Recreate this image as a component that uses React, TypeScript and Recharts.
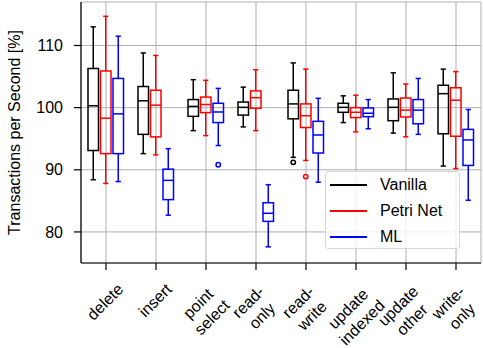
import { Bar, CartesianGrid, ComposedChart, Label, Legend, XAxis, YAxis } from "recharts";

const categories = ["delete", "insert", "point\nselect", "read-\nonly", "read-\nwrite", "update\nindexed", "update\nother", "write-\nonly"];

// [lower whisker, Q1, median, Q3, upper whisker]
const vanilla = [
  [88.4, 93.1, 100.3, 106.3, 113.0],
  [92.6, 95.7, 101.1, 103.4, 108.8],
  [96.3, 98.6, 100.2, 101.3, 104.5],
  [96.9, 98.8, 100.05, 100.9, 103.3],
  [92.0, 98.2, 100.6, 102.8, 107.2],
  [97.6, 99.25, 100.05, 100.7, 101.9],
  [95.9, 97.9, 100.05, 101.4, 105.6],
  [90.6, 95.8, 102.25, 103.6, 106.2],
];
const petriNet = [
  [87.8, 92.6, 98.3, 105.9, 114.7],
  [92.4, 95.3, 100.4, 102.8, 108.4],
  [95.5, 99.2, 100.5, 101.7, 104.4],
  [96.3, 99.9, 101.6, 102.7, 106.1],
  [91.5, 96.8, 98.7, 100.6, 106.2],
  [96.1, 98.4, 99.25, 100.0, 102.0],
  [95.3, 98.5, 99.6, 101.55, 103.8],
  [90.2, 95.4, 101.2, 103.2, 105.8],
];
const ml = [
  [88.1, 92.6, 99.0, 104.7, 111.5],
  [82.7, 85.2, 88.3, 90.1, 93.4],
  [93.9, 97.6, 99.3, 100.7, 103.1],
  [77.6, 81.7, 83.0, 84.7, 87.6],
  [88.0, 92.7, 95.6, 97.8, 101.5],
  [96.6, 98.55, 99.1, 99.95, 101.3],
  [95.7, 97.4, 99.6, 101.3, 104.7],
  [85.1, 90.7, 94.8, 96.5, 99.7],
];

const vanillaOutliers = [[], [], [], [], [91.2], [], [], []];
const petriNetOutliers = [[], [], [], [], [88.9], [], [], []];
const mlOutliers = [[], [], [90.8], [], [], [], [], []];

const yTicks = [80, 90, 100, 110];

const series = [
  { key: "vanilla", name: "Vanilla", color: "#000000" },
  { key: "petriNet", name: "Petri Net", color: "#ff0000" },
  { key: "ml", name: "ML", color: "#0000ff" },
];

const data = categories.map((name, i) => ({
  name,
  vanilla: vanilla[i],
  vanillaOut: vanillaOutliers[i],
  petriNet: petriNet[i],
  petriNetOut: petriNetOutliers[i],
  ml: ml[i],
  mlOut: mlOutliers[i],
}));

const FONT = '"Liberation Sans", Arial, Helvetica, sans-serif';

// rough Arial advance widths (em) for label layout
const narrow = "ijlt";
const textWidth = (s: string) => {
  let w = 0;
  for (const ch of s) {
    if (narrow.includes(ch)) w += 0.25;
    else if (ch === "r" || ch === "-") w += 0.333;
    else if (ch === "w") w += 0.722;
    else if (ch === "s" || ch === "c" || ch === "x" || ch === "y") w += 0.5;
    else w += 0.556;
  }
  return w * 16;
};

const XTick = ({ x, y, payload }: any) => {
  const lines = String(payload.value).split("\n");
  const w = Math.max(...lines.map(textWidth));
  const h = 18 + (lines.length - 1) * 26;
  const cy = y + 8 + (w + h) / (2 * Math.SQRT2);
  const cx = x - 1;
  const lh = 19.5;
  return (
    <g transform={`translate(${cx},${cy}) rotate(-45)`}>
      <text textAnchor="middle" fontSize={16} fill="#000">
        {lines.map((l, i) => (
          <tspan key={i} x={0} y={(i - (lines.length - 1) / 2) * lh} dy="0.35em">
            {l}
          </tspan>
        ))}
      </text>
    </g>
  );
};

const makeBox = (key: string, color: string) => (props: any) => {
  const { x, y, width, height, payload } = props;
  const [lo, q1, med, q3, hi] = payload[key];
  const top = Math.min(y, y + height);
  const bot = Math.max(y, y + height);
  const py = (v: number) => top + ((q3 - v) * (bot - top)) / (q3 - q1);
  const cx = x + width / 2;
  const cap = width / 4;
  return (
    <g stroke={color} strokeWidth={1.5} fill="none">
      <line x1={cx} x2={cx} y1={py(hi)} y2={top} />
      <line x1={cx} x2={cx} y1={bot} y2={py(lo)} />
      <line x1={cx - cap} x2={cx + cap} y1={py(hi)} y2={py(hi)} />
      <line x1={cx - cap} x2={cx + cap} y1={py(lo)} y2={py(lo)} />
      <rect x={x} y={top} width={width} height={bot - top} />
      <line x1={x} x2={x + width} y1={py(med)} y2={py(med)} />
      {payload[key + "Out"].map((v: number, j: number) => (
        <circle key={j} cx={cx} cy={py(v)} r={2.2} />
      ))}
    </g>
  );
};

const LegendBox = () => (
  <div
    style={{
      width: 133,
      height: 76,
      border: "1px solid #d6d6d6",
      borderRadius: 3,
      background: "rgba(255,255,255,0.8)",
      fontSize: 16,
      fontFamily: FONT,
      color: "#000",
    }}
  >
    {series.map((s) => (
      <div key={s.key} style={{ height: 26, display: "flex", alignItems: "center" }}>
        <span style={{ display: "inline-block", width: 37, height: 2, background: s.color, marginLeft: 4, marginRight: 13 }} />
        <span>{s.name}</span>
      </div>
    ))}
  </div>
);

const YLabel = (props: any) => {
  const vb = props.viewBox || { y: 2, height: 261 };
  const cy = vb.y + vb.height / 2;
  return (
    <text x={20} y={cy} transform={`rotate(-90, 20, ${cy})`} textAnchor="middle" fontSize={16} fill="#000">
      Transactions per Second [%]
    </text>
  );
};

export default function App() {
  return (
    <div style={{ position: "absolute", left: 0, top: 0, fontFamily: FONT }}>
      <ComposedChart width={483} height={348} data={data} margin={{ top: 2, right: 2, bottom: 0, left: 0 }} barSize={10.5} barGap={2}>
        <CartesianGrid stroke="#b0b0b0" strokeWidth={1} />
        <XAxis
          dataKey="name"
          height={85}
          interval={0}
          tickSize={7}
          tickLine={{ stroke: "#000", strokeWidth: 1.2 }}
          axisLine={{ stroke: "#000", strokeWidth: 1.2 }}
          tick={<XTick />}
        />
        <XAxis xAxisId="top" dataKey="name" orientation="top" height={0} tick={false} tickLine={false} axisLine={{ stroke: "#000", strokeWidth: 1.2 }} />
        <YAxis
          width={81}
          domain={[75, 117]}
          ticks={yTicks}
          allowDataOverflow
          tickSize={7}
          tickMargin={11}
          tick={{ fontSize: 16, fill: "#000" }}
          tickLine={{ stroke: "#000", strokeWidth: 1.2 }}
          axisLine={{ stroke: "#000", strokeWidth: 1.2 }}
        >
          <Label content={<YLabel />} />
        </YAxis>
        <YAxis yAxisId="right" orientation="right" width={0} domain={[75, 117]} tick={false} tickLine={false} axisLine={{ stroke: "#000", strokeWidth: 1.2 }} />
        {series.map((s) => (
          <Bar
            key={s.key}
            name={s.name}
            dataKey={(d: any) => [d[s.key][1], d[s.key][3]]}
            fill="none"
            shape={makeBox(s.key, s.color)}
            isAnimationActive={false}
          />
        ))}
        <Legend
          layout="horizontal"
          align="center"
          verticalAlign="middle"
          content={<LegendBox />}
          wrapperStyle={{ left: 325, top: 171, width: 135, height: 78 }}
        />
      </ComposedChart>
    </div>
  );
}
